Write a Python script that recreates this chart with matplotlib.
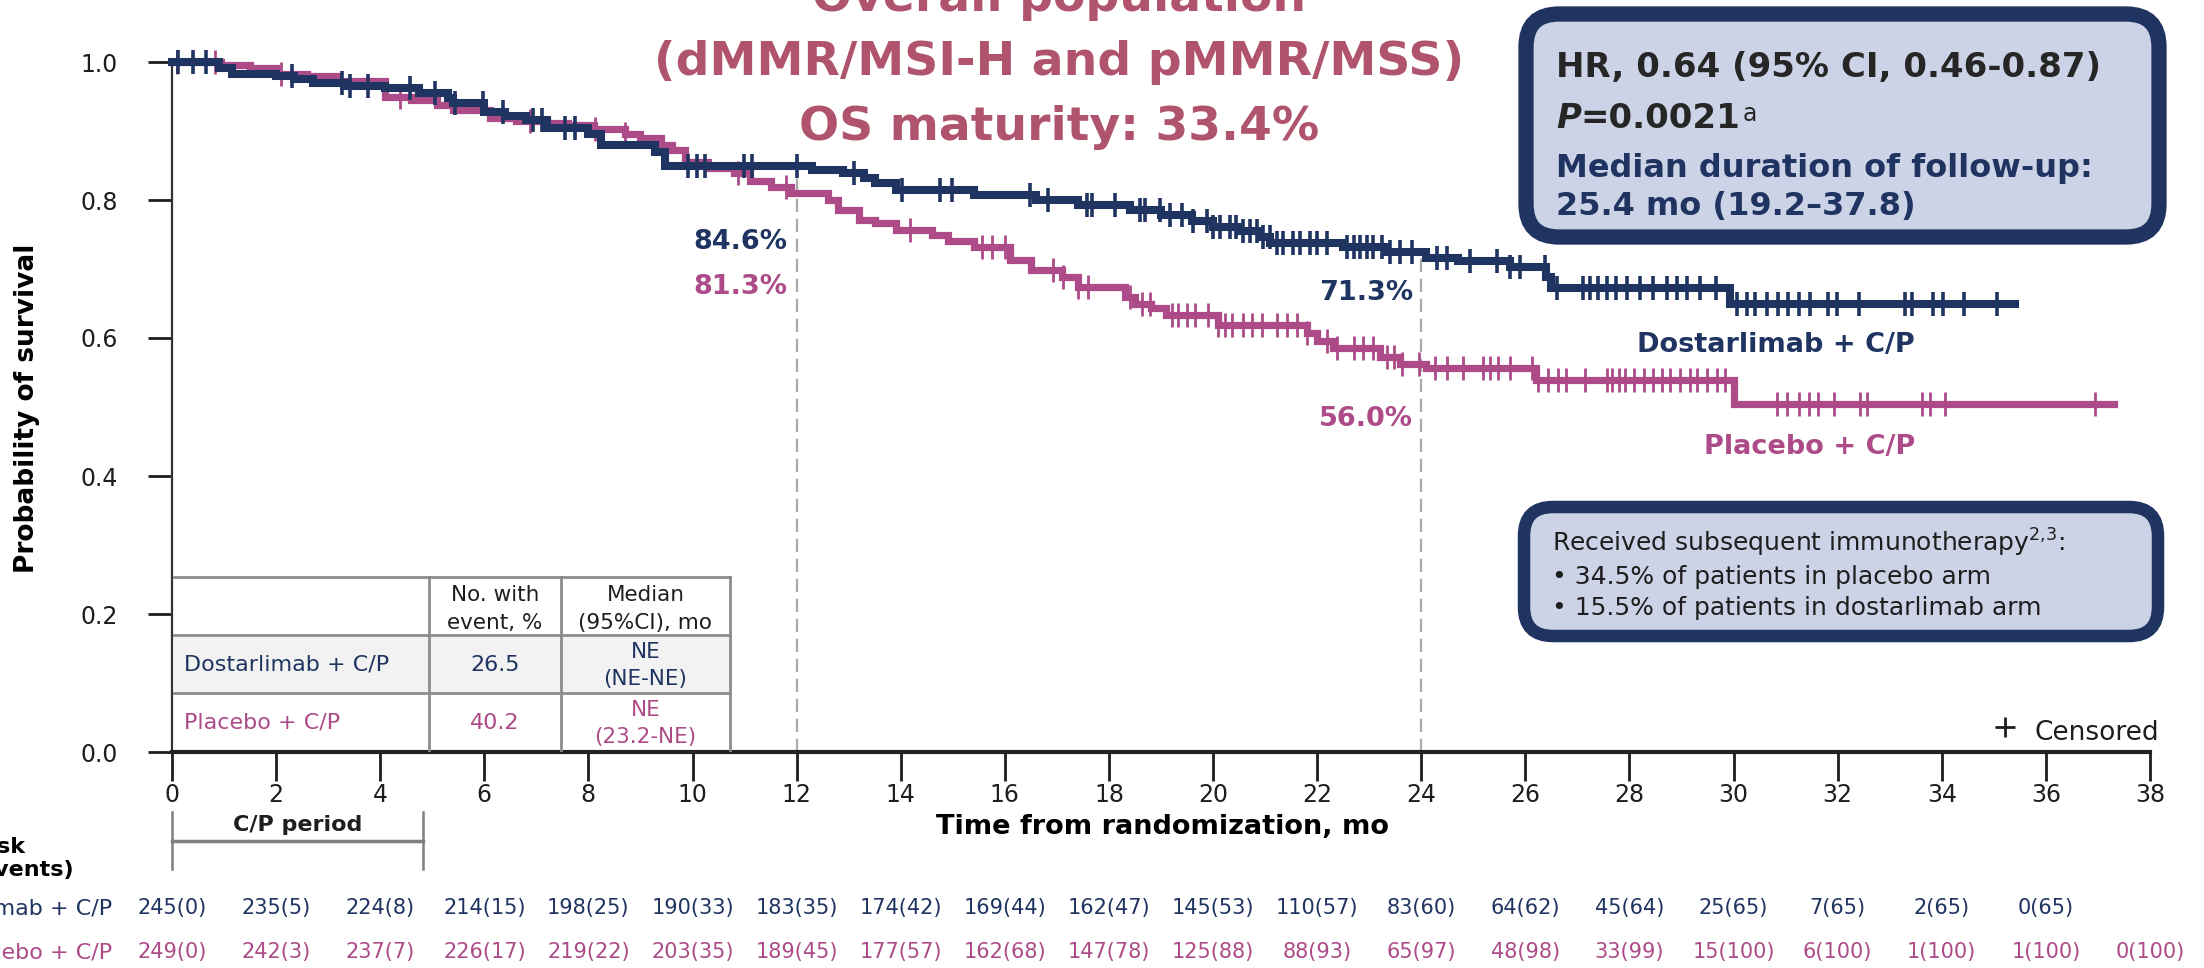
import matplotlib
matplotlib.use("Agg")
import matplotlib.pyplot as plt
import matplotlib.transforms as mtransforms
from matplotlib.patches import FancyBboxPatch, Rectangle
import numpy as np

NAVY = "#1F3461"
PINK = "#AC4B88"
TITLE_C = "#B0546E"
BOX_FILL = "#CDD3E6"
DARK = "#1E1E1E"

# Kaplan-Meier steps (months, survival after the step)
dost_t = [0, 0.9, 1.15, 2.0, 2.35, 2.7, 3.3, 4.1, 4.75, 5.3, 5.4, 6.0, 6.4, 6.8,
          7.2, 8.0, 8.25, 9.28, 9.47, 12.3, 12.9, 13.3, 13.5, 13.9, 15.4, 16.6,
          17.4, 18.4, 19.0, 19.6, 20.0, 20.5, 20.9, 21.1, 22.5, 23.3, 24.1, 24.7,
          25.7, 26.4, 26.5, 29.93]
dost_s = [1.0, 0.991, 0.983, 0.980, 0.975, 0.969, 0.965, 0.962, 0.955, 0.948,
          0.940, 0.928, 0.922, 0.916, 0.905, 0.896, 0.880, 0.870, 0.850, 0.843,
          0.839, 0.832, 0.825, 0.814, 0.807, 0.800, 0.793, 0.786, 0.778, 0.769,
          0.761, 0.755, 0.747, 0.737, 0.732, 0.725, 0.716, 0.711, 0.703, 0.688,
          0.672, 0.650]
dost_end = 35.4
dost_cens = [0.12, 0.4, 0.65, 2.3, 3.27, 3.42, 3.77, 4.57, 5.05, 5.44, 5.98, 6.36,
             6.94, 7.1, 7.55, 7.74, 9.92, 10.09, 10.24, 10.98, 11.14, 12.0, 13.1,
             14.02, 14.76, 14.99, 16.48, 16.83, 17.57, 17.67, 18.12, 18.6, 18.7,
             18.98, 19.17, 19.4, 19.62, 19.88, 20.0, 20.13, 20.33, 20.45, 20.58,
             20.71, 20.84, 20.96, 21.09, 21.22, 21.35, 21.54, 21.67, 21.86, 21.99,
             22.18, 22.57, 22.7, 22.83, 22.96, 23.08, 23.24, 23.4, 23.59, 23.82,
             24.3, 24.49, 24.94, 25.45, 25.71, 25.9, 26.38, 26.6, 27.11, 27.24,
             27.4, 27.56, 27.75, 27.95, 28.2, 28.46, 28.72, 28.91, 29.1, 29.36,
             29.67, 30.06, 30.25, 30.41, 30.64, 30.86, 31.05, 31.25, 31.47, 31.82,
             31.98, 32.4, 33.29, 33.42, 33.84, 34.03, 34.42, 35.06]

plac_t = [0, 0.95, 1.5, 2.0, 2.6, 3.2, 4.1, 4.6, 5.1, 5.4, 6.1, 6.6, 7.2, 7.6, 8.1,
          8.7, 9.0, 9.4, 9.6, 9.85, 10.3, 10.8, 11.1, 11.5, 11.9, 12.6, 12.8, 13.2,
          13.5, 13.9, 14.6, 14.9, 15.4, 16.1, 16.5, 17.1, 17.4, 18.3, 18.5, 18.8,
          19.1, 20.1, 21.8, 22.0, 22.3, 23.2, 23.6, 24.1, 26.2, 30.0]
plac_s = [1.0, 0.995, 0.991, 0.983, 0.980, 0.972, 0.950, 0.945, 0.938, 0.930,
          0.919, 0.915, 0.912, 0.908, 0.903, 0.896, 0.890, 0.880, 0.872, 0.855,
          0.846, 0.839, 0.827, 0.819, 0.810, 0.800, 0.786, 0.771, 0.766, 0.757,
          0.749, 0.740, 0.732, 0.713, 0.699, 0.689, 0.674, 0.660, 0.650, 0.643,
          0.633, 0.619, 0.607, 0.595, 0.585, 0.573, 0.563, 0.556, 0.539, 0.505]
plac_end = 37.3
plac_cens = [0.1, 0.83, 2.1, 4.38, 6.88, 8.13, 8.7, 10.88, 11.8, 14.18, 15.56,
             15.75, 16.0, 16.93, 17.12, 17.41, 17.6, 18.41, 18.64, 18.79, 19.21,
             19.33, 19.5, 19.65, 19.91, 20.1, 20.23, 20.36, 20.58, 20.74, 20.94,
             21.22, 21.42, 21.61, 21.8, 22.19, 22.38, 22.7, 22.89, 23.08, 23.34,
             23.47, 23.63, 23.95, 24.27, 24.49, 24.81, 25.19, 25.32, 25.48, 25.71,
             26.12, 26.25, 26.44, 26.63, 26.79, 27.15, 27.56, 27.66, 27.79, 27.92,
             28.08, 28.27, 28.46, 28.62, 28.78, 28.98, 29.17, 29.3, 29.49, 29.68,
             29.84, 30.83, 31.02, 31.25, 31.44, 31.63, 31.92, 32.43, 32.56, 33.62,
             33.78, 34.06, 36.94]

risk_months = list(range(0, 40, 2))
dost_risk = ["245(0)", "235(5)", "224(8)", "214(15)", "198(25)", "190(33)",
             "183(35)", "174(42)", "169(44)", "162(47)", "145(53)", "110(57)",
             "83(60)", "64(62)", "45(64)", "25(65)", "7(65)", "2(65)", "0(65)"]
plac_risk = ["249(0)", "242(3)", "237(7)", "226(17)", "219(22)", "203(35)",
             "189(45)", "177(57)", "162(68)", "147(78)", "125(88)", "88(93)",
             "65(97)", "48(98)", "33(99)", "15(100)", "6(100)", "1(100)",
             "1(100)", "0(100)"]

landmarks = [12, 24]
dost_landmark = ["84.6%", "71.3%"]
plac_landmark = ["81.3%", "56.0%"]

arms = ["Dostarlimab + C/P", "Placebo + C/P"]
events_pct = ["26.5", "40.2"]
median_os = [("NE", "(NE-NE)"), ("NE", "(23.2-NE)")]

title_lines = ["Overall population", "(dMMR/MSI-H and pMMR/MSS)", "OS maturity: 33.4%"]


def surv_at(t, s, x):
    t = np.asarray(t)
    s = np.asarray(s)
    idx = np.searchsorted(t, x, side="right") - 1
    return s[idx]


W, H = 2204, 968
fig = plt.figure(figsize=(W / 100, H / 100), dpi=100)
x0, x1, y0, y1 = 172, 2150, 752, 62
ax = fig.add_axes([x0 / W, 1 - y0 / H, (x1 - x0) / W, (y0 - y1) / H])

# curves
for t, s, end, cens, col, lw, mew, z in [
        (plac_t, plac_s, plac_end, plac_cens, PINK, 5.2, 2.0, 3),
        (dost_t, dost_s, dost_end, dost_cens, NAVY, 5.8, 2.6, 4)]:
    xs = np.append(t, end)
    ys = np.append(s, s[-1])
    ax.step(xs, ys, where="post", color=col, lw=lw, zorder=z, clip_on=False,
            solid_joinstyle="miter")
    ax.plot(cens, surv_at(t, s, cens), ls="none", marker="|", ms=17, mew=mew,
            color=col, zorder=z, clip_on=False)

# landmark dashed lines and labels
for m in landmarks:
    top = surv_at(dost_t, dost_s, m)
    ax.plot([m, m], [0, top], color="#ABABAB", lw=1.6, ls=(0, (6, 3)), zorder=2)

ax.text(11.83, 0.739, dost_landmark[0], ha="right", va="center", color=NAVY,
        fontsize=19.5, fontweight="bold")
ax.text(11.83, 0.674, plac_landmark[0], ha="right", va="center", color=PINK,
        fontsize=19.5, fontweight="bold")
ax.text(23.84, 0.665, dost_landmark[1], ha="right", va="center", color=NAVY,
        fontsize=19.5, fontweight="bold")
ax.text(23.84, 0.483, plac_landmark[1], ha="right", va="center", color=PINK,
        fontsize=19.5, fontweight="bold")

ax.text(33.49, 0.59, arms[0], ha="right", va="center", color=NAVY,
        fontsize=19.5, fontweight="bold")
ax.text(33.49, 0.442, arms[1], ha="right", va="center", color=PINK,
        fontsize=19.5, fontweight="bold")

ax.set_xlim(0, 38)
ax.set_ylim(0, 1.0)
ax.set_xticks(np.arange(0, 39, 2))
ax.set_yticks(np.arange(0, 1.01, 0.2))
ax.set_yticklabels([f"{v:.1f}" for v in np.arange(0, 1.01, 0.2)])
ax.tick_params(axis="x", length=21, width=2, pad=1, labelsize=17,
               colors=DARK, direction="out")
ax.tick_params(axis="y", length=17, width=2, pad=22, labelsize=17,
               colors=DARK, direction="out")
for side in ["top", "right"]:
    ax.spines[side].set_visible(False)
ax.spines["left"].set_linewidth(1.6)
ax.spines["left"].set_color("#333333")
ax.spines["bottom"].set_linewidth(3)
ax.spines["bottom"].set_color("#222222")
ax.patch.set_alpha(0)

ax.set_xlabel("Time from randomization, mo", fontsize=19.5, fontweight="bold",
              color="black", va="center")
ax.xaxis.set_label_coords((1162 - x0) / (x1 - x0), (y0 - 827) / (y0 - y1))
ax.set_ylabel("Probability of survival", fontsize=19, fontweight="bold",
              color="black", va="center")
ax.yaxis.set_label_coords((27 - x0) / (x1 - x0), (y0 - 408) / (y0 - y1))

# overlay in pixel coordinates for boxes, table and annotations
ov = fig.add_axes([0, 0, 1, 1])
ov.set_xlim(0, W)
ov.set_ylim(H, 0)
ov.axis("off")
ov.set_zorder(5)

# title (first line runs off the top edge, as in the source slide)
for txt, yb in zip(title_lines, [11, 75, 140]):
    ov.text(1059, yb, txt, ha="center", va="baseline", color=TITLE_C,
            fontsize=34, fontweight="bold")

# HR box
ov.add_patch(FancyBboxPatch((1526, 14), 2159 - 1526, 237 - 14,
                            boxstyle="round,pad=0,rounding_size=33",
                            fc=BOX_FILL, ec=NAVY, lw=11, zorder=1))
ov.text(1556, 77, "HR, 0.64 (95% CI, 0.46-0.87)", ha="left", va="baseline",
        color="#262626", fontsize=24.5, fontweight="bold", zorder=2)
tp = ov.text(1556, 128, "P", ha="left", va="baseline", color="#262626",
             fontsize=24.5, fontweight="bold", fontstyle="italic", zorder=2)
tv = ov.annotate("=0.0021", xy=(1, 0), xycoords=tp, ha="left", va="bottom",
                 color="#262626", fontsize=24.5, fontweight="bold", zorder=2)
ov.annotate("a", xy=(1, 1), xycoords=tv, xytext=(1, 0), textcoords="offset points",
            ha="left", va="top", color="#262626", fontsize=17, zorder=2)
ov.text(1556, 177, "Median duration of follow-up:", ha="left", va="baseline",
        color=NAVY, fontsize=23, fontweight="bold", zorder=2)
ov.text(1556, 215, "25.4 mo (19.2\u201337.8)", ha="left", va="baseline",
        color=NAVY, fontsize=23, fontweight="bold", zorder=2)

# subsequent immunotherapy box
ov.add_patch(FancyBboxPatch((1524, 507), 2158 - 1524, 636 - 507,
                            boxstyle="round,pad=0,rounding_size=29",
                            fc=BOX_FILL, ec=NAVY, lw=9, zorder=1))
ov.text(1552, 552, "Received subsequent immunotherapy$^{2{,}3}$:", ha="left",
        va="baseline", color=DARK, fontsize=18, zorder=2)
ov.text(1552, 584, "\u2022 34.5% of patients in placebo arm", ha="left",
        va="baseline", color=DARK, fontsize=18, zorder=2)
ov.text(1552, 615, "\u2022 15.5% of patients in dostarlimab arm", ha="left",
        va="baseline", color=DARK, fontsize=18, zorder=2)

# censored legend
ov.plot([2005], [727], marker="+", ms=14, mew=2, color=DARK)
ov.text(2034, 740, "Censored", ha="left", va="baseline", color=DARK, fontsize=19)

# summary table
tl, c1, c2, tr = 173.5, 428.6, 561.2, 729.6
r0, r1, r2, r3 = 577, 635, 693, 750
ov.add_patch(Rectangle((tl, r1), tr - tl, r2 - r1, fc="#F2F2F2", ec="none", zorder=0))
for yy in [r0, r1, r2]:
    ov.plot([tl, tr], [yy, yy], color="#8C8C8C", lw=2, zorder=1)
for xx in [c1, c2, tr]:
    ov.plot([xx, xx], [r0, r3], color="#8C8C8C", lw=2, zorder=1)
mc1, mc2 = (c1 + c2) / 2, (c2 + tr) / 2
ov.text(mc1, 595, "No. with", ha="center", va="center", fontsize=15.5, color=DARK)
ov.text(mc1, 623, "event, %", ha="center", va="center", fontsize=15.5, color=DARK)
ov.text(mc2, 595, "Median", ha="center", va="center", fontsize=15.5, color=DARK)
ov.text(mc2, 623, "(95%CI), mo", ha="center", va="center", fontsize=15.5, color=DARK)
for arm, ev, med, col, yc in zip(arms, events_pct, median_os, [NAVY, PINK], [665, 723]):
    ov.text(184, yc, arm, ha="left", va="center", fontsize=16, color=col)
    ov.text(mc1, yc, ev, ha="center", va="center", fontsize=16, color=col)
    ov.text(mc2, yc - 13, med[0], ha="center", va="center", fontsize=15.5, color=col)
    ov.text(mc2, yc + 14, med[1], ha="center", va="center", fontsize=15.5, color=col)

# C/P period bracket and at-risk table
blend = mtransforms.blended_transform_factory(ax.transData, ov.transData)
ov.plot([0, 0], [812, 869], color="#7F7F7F", lw=1.8, transform=blend, clip_on=False)
ov.plot([4.82, 4.82], [812, 869], color="#7F7F7F", lw=1.8, transform=blend, clip_on=False)
ov.plot([0, 4.82], [841, 841], color="#7F7F7F", lw=2.5, transform=blend, clip_on=False)
ov.text(2.41, 825, "C/P period", ha="center", va="center", fontsize=16,
        fontweight="bold", color=DARK, transform=blend)

# row header runs off the left edge, as in the source slide
ov.text(25, 847, "No. at risk", ha="right", va="center", fontsize=16,
        fontweight="bold", color="black")
ov.text(74, 870, "(No. of events)", ha="right", va="center", fontsize=16,
        fontweight="bold", color="black")
ov.text(112, 908, arms[0], ha="right", va="center", fontsize=16, color=NAVY)
ov.text(112, 952, arms[1], ha="right", va="center", fontsize=16, color=PINK)
for m, lab in zip(risk_months, dost_risk):
    ov.text(m, 908, lab, ha="center", va="center", fontsize=15, color=NAVY,
            transform=blend)
for m, lab in zip(risk_months, plac_risk):
    ov.text(m, 952, lab, ha="center", va="center", fontsize=15, color=PINK,
            transform=blend)

fig.savefig("out.png", dpi=100)
